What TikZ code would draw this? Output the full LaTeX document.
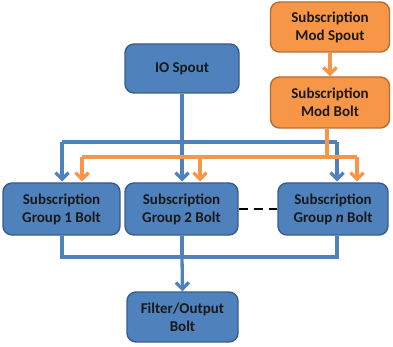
\documentclass[tikz,border=0pt]{standalone}
\usepackage{fontspec}
\setmainfont{Carlito}
\usetikzlibrary{arrows.meta}
\definecolor{bfill}{HTML}{4F81BD}
\definecolor{bline}{HTML}{385D8A}
\definecolor{ofill}{HTML}{F79646}
\definecolor{oline}{HTML}{B66D31}
\tikzset{
  box/.style={draw=bline, fill=bfill, line width=1.4pt, rounded corners=9pt, align=center,
    font=\fontsize{15}{18}\selectfont\bfseries, text=black!90, inner sep=0pt},
  obox/.style={box, draw=oline, fill=ofill},
  bl/.style={draw=bfill, line width=3.3pt},
  ol/.style={draw=ofill, line width=3.3pt},
  arr/.style={-{Straight Barb[length=6.5pt,width=13pt,line width=3.3pt]}},
}
\begin{document}
\begin{tikzpicture}[x=1pt,y=-1pt]
\useasboundingbox (0,0) rectangle (393,347);
% boxes
\node[obox, minimum width=119, minimum height=50] (ms) at (330,27) {Subscription\\Mod Spout};
\node[obox, minimum width=119, minimum height=51] (mb) at (330,102.5) {Subscription\\Mod Bolt};
\node[box, minimum width=114, minimum height=49] (io) at (182,68.5) {IO Spout};
\node[box, minimum width=117, minimum height=52] (g1) at (61.5,209) {Subscription\\Group 1 Bolt};
\node[box, minimum width=113, minimum height=52] (g2) at (181.5,209) {Subscription\\Group 2 Bolt};
\node[box, minimum width=110, minimum height=52] (gn) at (333,209) {Subscription\\Group \textit{n} Bolt};
\node[box, minimum width=111, minimum height=50] (fo) at (182.5,317) {Filter/Output\\Bolt};
% coordinates
\coordinate (bh) at (182,142);
\coordinate (oh) at (327,157);
\coordinate (bb) at (182,257);
% orange arrow spout -> bolt
\draw[ol,arr] (ms.south) -- (mb.north);
% blue distribution
\draw[bl] (62,142) -- (337,142);
\draw[bl] (io.south) -- (bh);
\draw[bl,arr] (62,142) -- (62,181.5);
\draw[bl,arr] (bh) -- (182,181.5);
\draw[bl,arr] (337,142) -- (337,181.5);
% orange distribution
\draw[ol] (mb.south -| oh) -- (oh);
\draw[ol] (82,157) -- (357,157);
\draw[ol,arr] (82,157) -- (82,181.5);
\draw[ol,arr] (200,157) -- (200,181.5);
\draw[ol,arr] (357,157) -- (357,181.5);
% dashed
\draw[line width=2.6pt, dash pattern=on 9pt off 6pt] (g2.east) -- (gn.west);
% bottom collection
\draw[bl] (g1.south -| 62,0) -- (62,257) -- (337,257) -- (gn.south -| 337,0);
\draw[bl] (g2.south -| bb) -- (bb);
\draw[bl,arr] (bb) -- (fo.north);
\end{tikzpicture}
\end{document}
